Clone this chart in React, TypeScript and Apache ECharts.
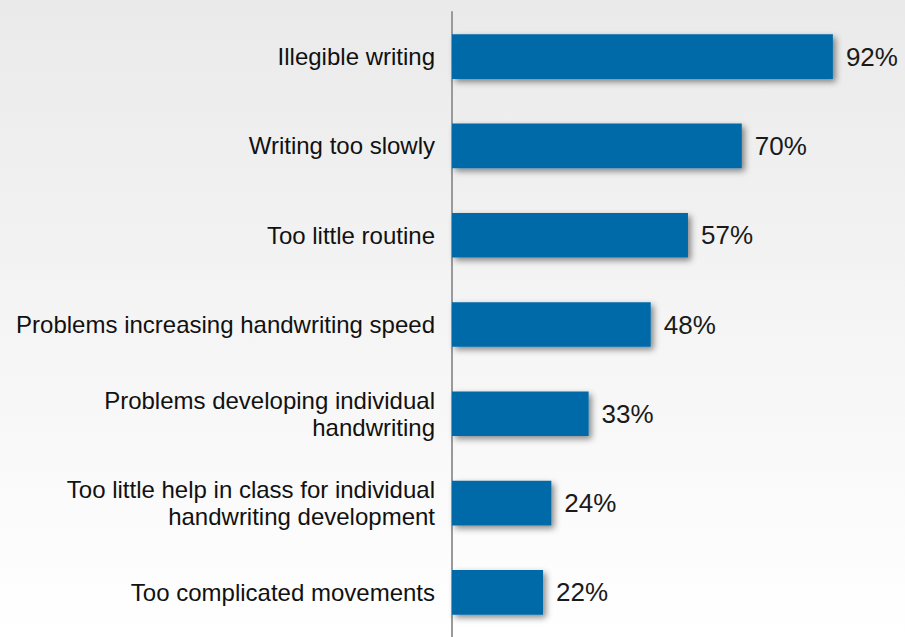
import React, { useEffect, useRef } from "react";
import * as echarts from "echarts";

const categories = [
  "Illegible writing",
  "Writing too slowly",
  "Too little routine",
  "Problems increasing handwriting speed",
  "Problems developing individual\nhandwriting",
  "Too little help in class for individual\nhandwriting development",
  "Too complicated movements",
];
const values = [92, 70, 57, 48, 33, 24, 22];

export default function App() {
  const ref = useRef<HTMLDivElement>(null);
  useEffect(() => {
    if (!ref.current) return;
    const chart = echarts.init(ref.current, null, { renderer: "svg" });
    chart.setOption({
      animation: false,
      backgroundColor: new echarts.graphic.LinearGradient(0, 0, 0, 1, [
        { offset: 0, color: "#eaeaea" },
        { offset: 1, color: "#ffffff" },
      ]),
      grid: { left: 452, right: 39, top: 12, height: 631, containLabel: false },
      xAxis: {
        type: "value",
        min: 0,
        max: 100,
        show: false,
      },
      yAxis: {
        type: "category",
        data: categories,
        inverse: true,
        axisLine: { show: true, lineStyle: { color: "#9a9a9a", width: 2 } },
        axisTick: { show: false },
        axisLabel: {
          margin: 17,
          fontFamily: "'Liberation Sans', Arial, sans-serif",
          fontSize: 24,
          lineHeight: 27,
          color: "#111111",
          align: "right",
        },
      },
      series: [
        {
          type: "bar",
          data: values,
          barWidth: "50%",
          itemStyle: {
            color: "#006aa8",
            shadowColor: "rgba(0,0,0,0.45)",
            shadowBlur: 6,
            shadowOffsetX: 3,
            shadowOffsetY: 3,
          },
          label: {
            show: true,
            position: "right",
            distance: 13,
            formatter: "{c}%",
            fontFamily: "'Liberation Sans', Arial, sans-serif",
            fontSize: 26,
            color: "#1a1a1a",
          },
        },
      ],
    });
    return () => chart.dispose();
  }, []);
  return (
    <div
      ref={ref}
      style={{ position: "fixed", left: 0, top: 0, width: 905, height: 637 }}
    />
  );
}
